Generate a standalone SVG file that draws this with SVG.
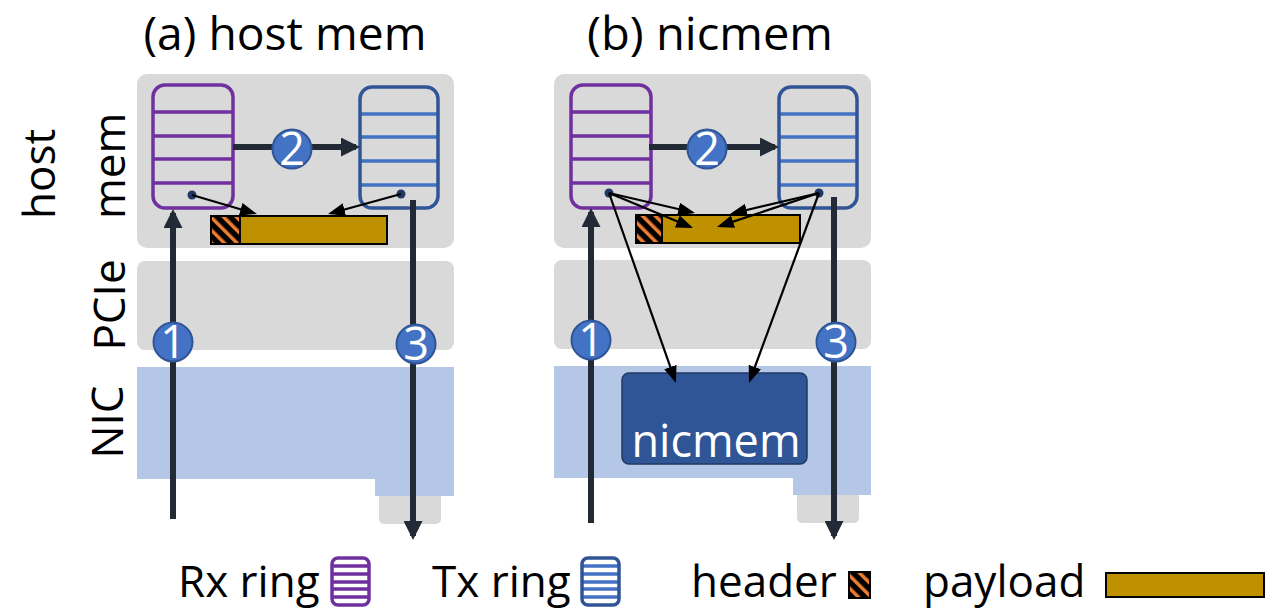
<svg xmlns="http://www.w3.org/2000/svg" width="1276" height="610" viewBox="0 0 1276 610">
  <style>
    .lbl { font-family: "Open Sans", "Noto Sans", sans-serif; fill: #000; }
    .layer { fill: #D9D9D9; }
    .nic { fill: #B4C7E7; }
    .rx { fill: none; stroke: #7030A0; stroke-width: 3.5; }
    .tx-frame { fill: none; stroke: #2F5597; stroke-width: 3.5; }
    .tx-line { stroke: #4472C4; stroke-width: 3.5; }
    .dot { fill: #1F3864; }
    .payload { fill: #BF9000; stroke: #000; stroke-width: 2; }
    .header { fill: url(#hdr); stroke: #000; stroke-width: 2; }
    .thick { stroke: #222A35; stroke-width: 6; fill: none; marker-end: url(#bigHead); }
    .thin { stroke: #000; stroke-width: 2.2; fill: none; marker-end: url(#smallHead); }
    .step circle { fill: #4472C4; stroke: #2F5597; stroke-width: 2; }
    .step text { font-family: "Open Sans", "Noto Sans", sans-serif; font-size: 45px; fill: #fff; text-anchor: middle; }
  </style>
  <defs>
    <pattern id="hdr" width="9" height="9" patternUnits="userSpaceOnUse" patternTransform="rotate(-45)">
      <rect width="9" height="9" fill="#000"/>
      <rect x="3" width="3.5" height="9" fill="#ED7D31"/>
    </pattern>
    <marker id="bigHead" viewBox="0 0 19 19" refX="15" refY="9.5" markerWidth="19" markerHeight="19" markerUnits="userSpaceOnUse" orient="auto">
      <path d="M0,0 L19,9.5 L0,19 Z" fill="#222A35"/>
    </marker>
    <marker id="smallHead" viewBox="0 0 17 13" refX="14" refY="6.5" markerWidth="17" markerHeight="13" markerUnits="userSpaceOnUse" orient="auto">
      <path d="M0,0 L17,6.5 L0,13 Z" fill="#000"/>
    </marker>
    <!-- ring buffer: rounded frame with four slot dividers -->
    <g id="rxRing">
      <rect x="0" y="0" width="80" height="123" rx="12" class="rx"/>
      <path d="M0,27 H80 M0,51 H80 M0,74 H80 M0,98 H80" class="rx"/>
    </g>
    <g id="txRing">
      <path d="M0,27 H78 M0,50 H78 M0,74 H78 M0,98 H78" class="tx-line"/>
      <rect x="0" y="0" width="78" height="121" rx="12" class="tx-frame"/>
    </g>
  </defs>

  <!-- titles -->
  <g id="titles">
    <text class="lbl" x="285" y="50" font-size="46" text-anchor="middle" textLength="283" lengthAdjust="spacingAndGlyphs">(a) host mem</text>
    <text class="lbl" x="710" y="50" font-size="46" text-anchor="middle" textLength="246" lengthAdjust="spacingAndGlyphs">(b) nicmem</text>
  </g>

  <!-- layer labels -->
  <g id="layer-labels">
    <text class="lbl" font-size="44" transform="translate(55,219) rotate(-90)">host</text>
    <text class="lbl" font-size="44" transform="translate(125,219) rotate(-90)">mem</text>
    <text class="lbl" font-size="44" text-anchor="middle" transform="translate(125,305) rotate(-90)">PCIe</text>
    <text class="lbl" font-size="44" text-anchor="middle" transform="translate(123,422) rotate(-90)">NIC</text>
  </g>

  <!-- panel (a): payload in host memory -->
  <g id="panel-a-layers">
    <rect class="layer" x="137" y="74" width="317" height="174" rx="10"/>
    <rect class="layer" x="137" y="261" width="317" height="89" rx="8"/>
    <rect class="layer" x="379" y="470" width="62" height="54" rx="5"/>
    <path class="nic" d="M137,367 H454 V496 H375 V479 H137 Z"/>
  </g>
  <g id="a-rx-ring"><use href="#rxRing" x="153" y="85"/><circle class="dot" cx="192" cy="195" r="4.5"/></g>
  <g id="a-tx-ring"><use href="#txRing" x="360" y="87"/><circle class="dot" cx="401" cy="194" r="4.5"/></g>
  <g id="a-buffer">
    <rect class="payload" x="240" y="216" width="147" height="28"/>
    <rect class="header" x="211" y="216" width="29" height="28"/>
  </g>

  <!-- panel (b): payload in NIC memory -->
  <g id="panel-b-layers">
    <rect class="layer" x="554" y="74" width="317" height="174" rx="10"/>
    <rect class="layer" x="554" y="260" width="317" height="89" rx="8"/>
    <rect class="layer" x="797" y="469" width="62" height="54" rx="5"/>
    <path class="nic" d="M554,366 H871 V495 H793 V478 H554 Z"/>
  </g>
  <g id="b-nicmem">
    <rect x="622" y="373" width="185" height="91" rx="7" fill="#2F5597" stroke="#203864" stroke-width="1.5"/>
    <text x="716" y="457" font-family="'Open Sans', 'Noto Sans', sans-serif" font-size="45" fill="#fff" text-anchor="middle">nicmem</text>
  </g>
  <g id="b-rx-ring"><use href="#rxRing" x="571" y="85"/><circle class="dot" cx="609" cy="193" r="4.5"/></g>
  <g id="b-tx-ring"><use href="#txRing" x="779" y="87"/><circle class="dot" cx="819" cy="193" r="4.5"/></g>
  <g id="b-buffer">
    <rect class="payload" x="662" y="215" width="138" height="28"/>
    <rect class="header" x="636" y="215" width="26" height="28"/>
  </g>

  <!-- connectors -->
  <g id="connectors">
    <line class="thick" x1="173" y1="519" x2="173" y2="213"/>
    <line class="thick" x1="233" y1="147" x2="356" y2="147"/>
    <line class="thick" x1="413" y1="200" x2="413" y2="536"/>
    <line class="thin" x1="192" y1="195" x2="254.1" y2="213.2"/>
    <line class="thin" x1="401" y1="194" x2="330.9" y2="213.2"/>

    <line class="thick" x1="591" y1="523" x2="591" y2="212"/>
    <line class="thick" x1="649" y1="147" x2="775" y2="147"/>
    <line class="thick" x1="834" y1="197" x2="834" y2="536"/>
    <line class="thin" x1="609" y1="193" x2="692.1" y2="212.3"/>
    <line class="thin" x1="609" y1="193" x2="690.2" y2="226.8"/>
    <line class="thin" x1="609" y1="193" x2="675.0" y2="380.2"/>
    <line class="thin" x1="819" y1="193" x2="732.9" y2="213.3"/>
    <line class="thin" x1="819" y1="193" x2="719.8" y2="226.1"/>
    <line class="thin" x1="819" y1="193" x2="750.0" y2="380.2"/>
  </g>

  <!-- numbered steps -->
  <g id="a-step1" class="step"><circle cx="173" cy="342" r="19.5"/><text x="173" y="358">1</text></g>
  <g id="a-step2" class="step"><circle cx="292" cy="149" r="19.5"/><text x="292" y="165">2</text></g>
  <g id="a-step3" class="step"><circle cx="416" cy="344" r="19.5"/><text x="416" y="360">3</text></g>
  <g id="b-step1" class="step"><circle cx="591" cy="340" r="19.5"/><text x="591" y="356">1</text></g>
  <g id="b-step2" class="step"><circle cx="707" cy="149" r="19.5"/><text x="707" y="165">2</text></g>
  <g id="b-step3" class="step"><circle cx="836" cy="342" r="19.5"/><text x="836" y="358">3</text></g>

  <!-- legend -->
  <g id="legend">
    <text class="lbl" x="178" y="597" font-size="44">Rx ring</text>
    <g>
      <rect x="332" y="558" width="37" height="47" rx="6" class="rx"/>
      <path d="M332,566 H369 M332,574 H369 M332,582 H369 M332,589 H369 M332,597 H369" class="rx"/>
    </g>
    <text class="lbl" x="432" y="597" font-size="44">Tx ring</text>
    <g>
      <path d="M582,566 H619 M582,574 H619 M582,582 H619 M582,589 H619 M582,597 H619" class="tx-line"/>
      <rect x="582" y="558" width="37" height="47" rx="6" class="tx-frame"/>
    </g>
    <text class="lbl" x="691" y="597" font-size="44">header</text>
    <rect class="header" x="849" y="572" width="21" height="26"/>
    <text class="lbl" x="923" y="597" font-size="44">payload</text>
    <rect class="payload" x="1106" y="573" width="158" height="24"/>
  </g>
</svg>
